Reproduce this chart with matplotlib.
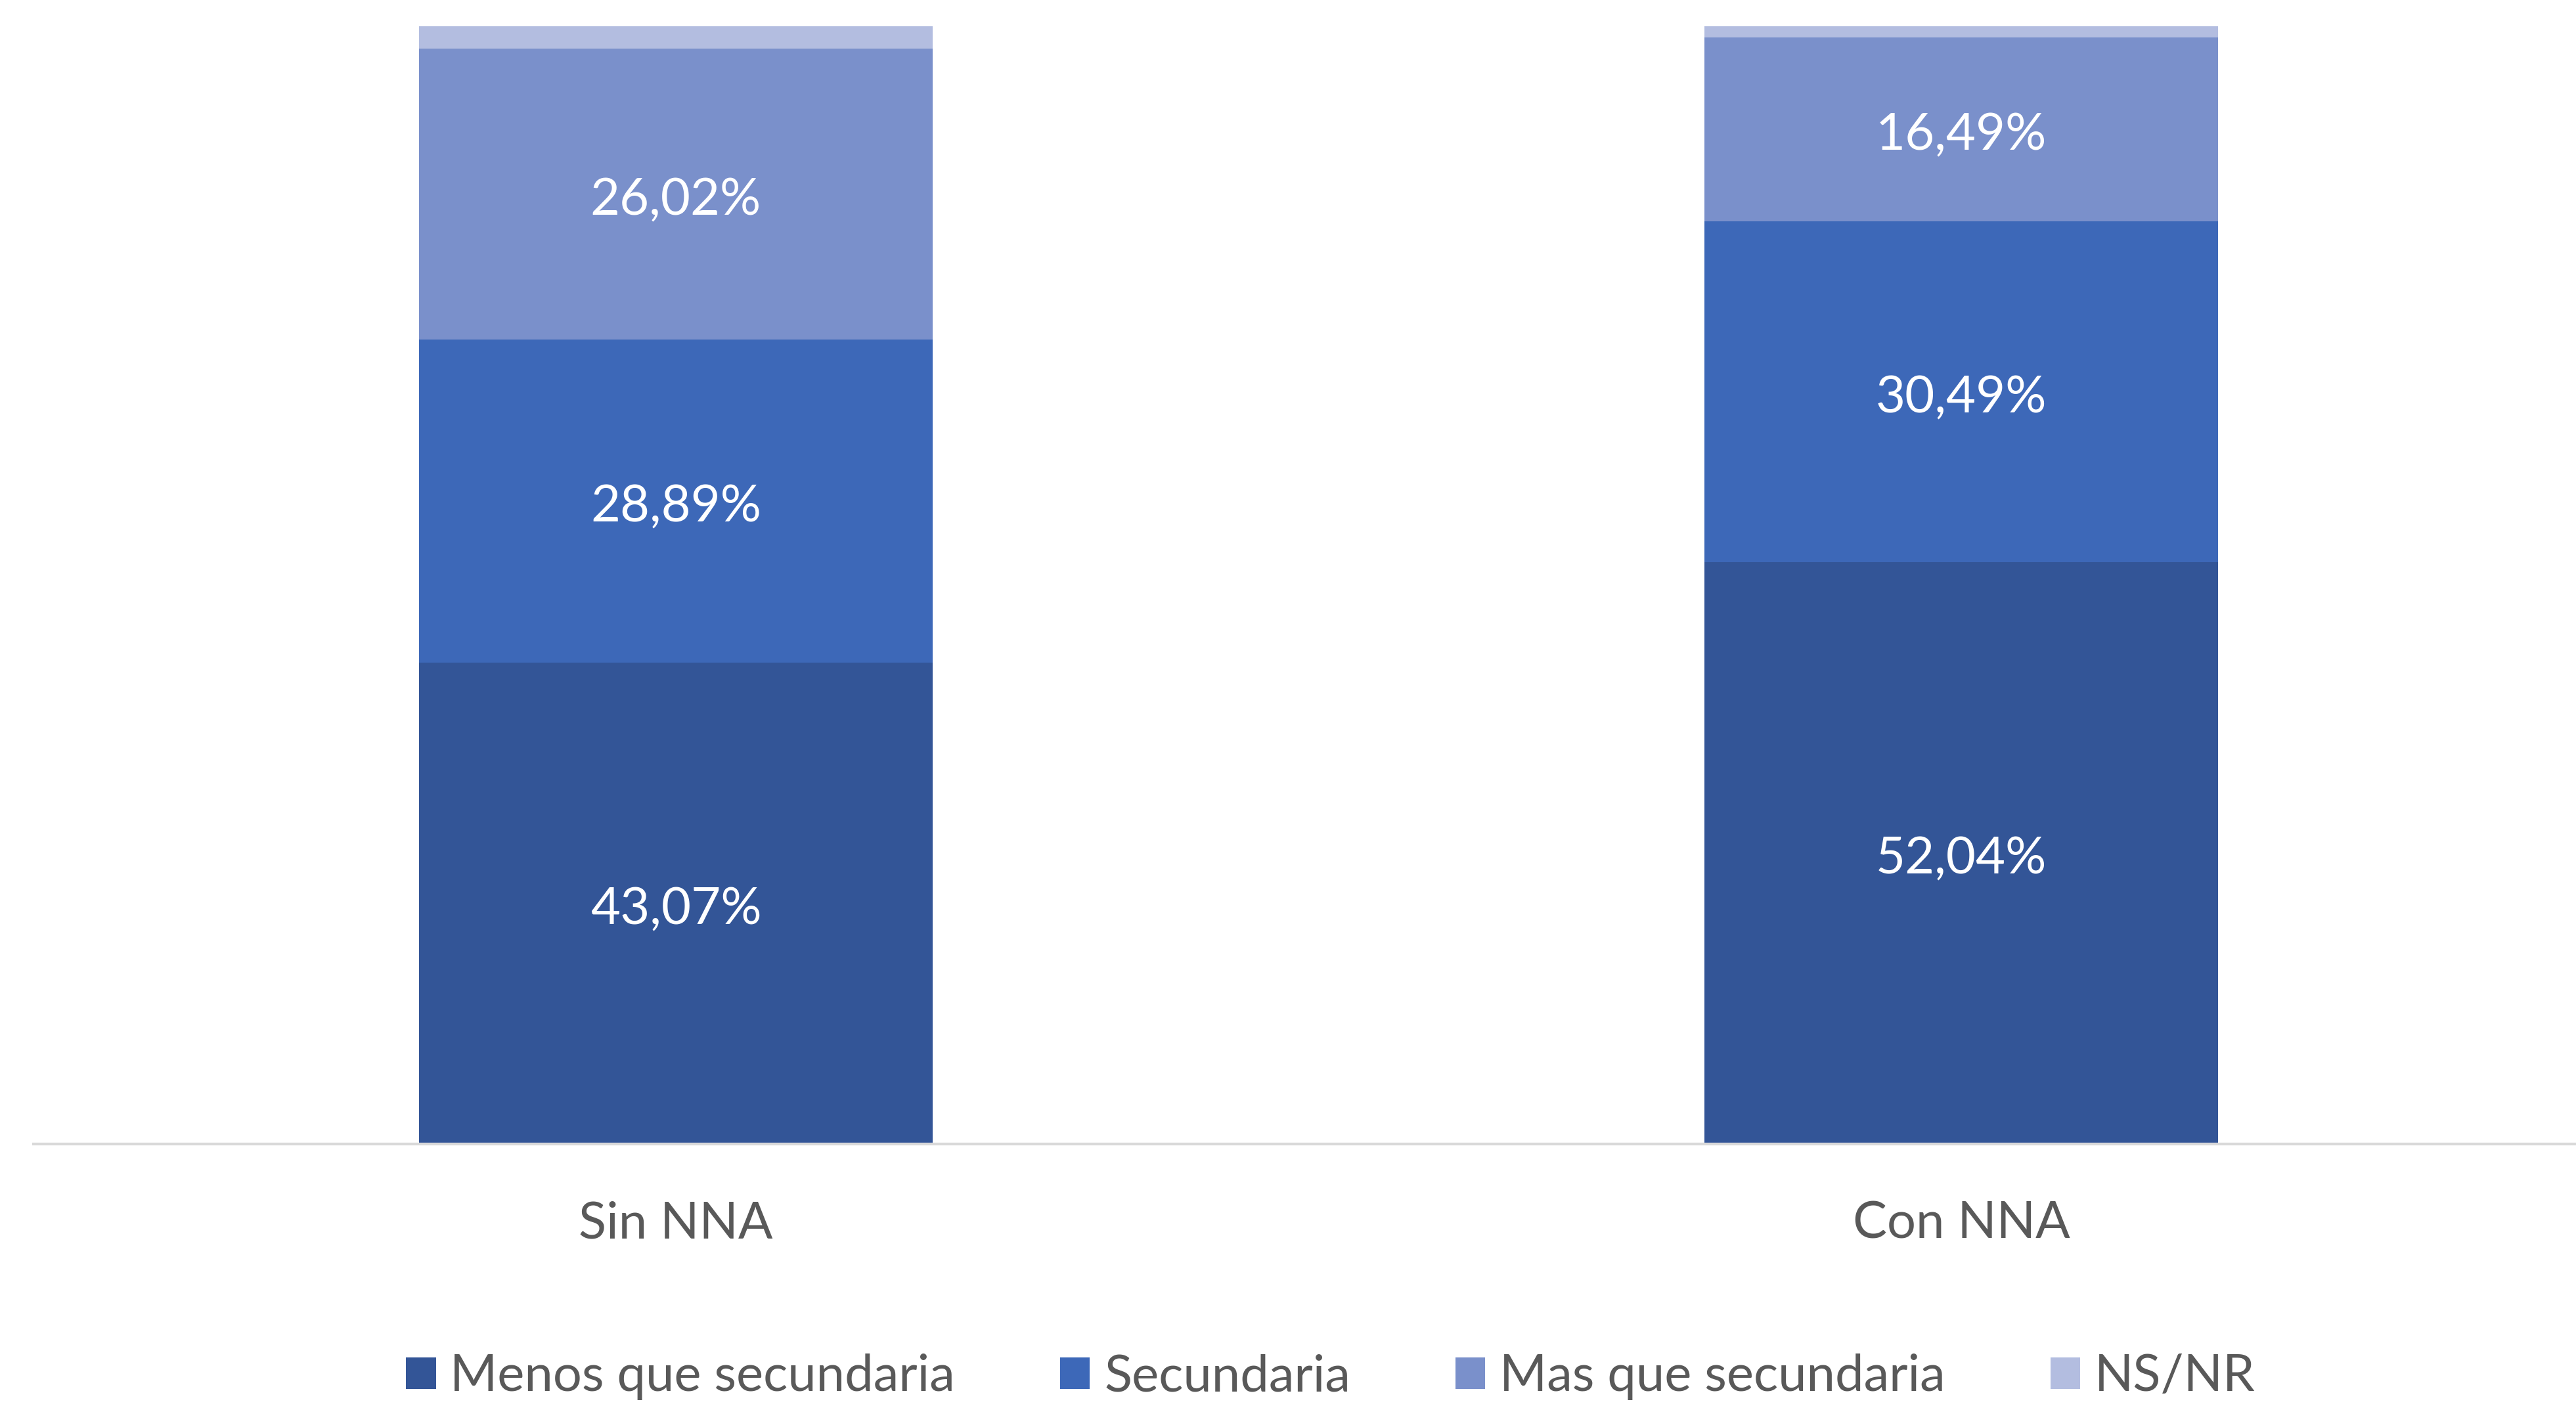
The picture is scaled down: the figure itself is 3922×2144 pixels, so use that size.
import matplotlib.pyplot as plt
import numpy as np

# data
groups = ["Sin NNA", "Con NNA"]
series = ["Menos que secundaria", "Secundaria", "Mas que secundaria", "NS/NR"]
menos = [43.07, 52.04]
secundaria = [28.89, 30.49]
mas = [26.02, 16.49]
nsnr = [2.02, 0.98]
colors = ["#335597", "#3D68B8", "#7A90CB", "#B3BDE0"]

plt.rcParams["font.family"] = ["Lato", "DejaVu Sans"]

fig = plt.figure(figsize=(19.61, 10.72), dpi=200)
ax = fig.add_axes([50.5 / 3922, 0.1875, 3914 / 3922, 0.9813 - 0.1875])

x = np.arange(len(groups))
bottom = np.zeros(len(groups))
for name, vals, col in zip(series, [menos, secundaria, mas, nsnr], colors):
    bars = ax.bar(x, vals, 0.4, bottom=bottom, color=col, label=name)
    if name != "NS/NR":
        for b, v, y0 in zip(bars, vals, bottom):
            ax.text(b.get_x() + b.get_width() / 2, y0 + v / 2 - 0.6,
                    f"{v:.2f}%".replace(".", ","), ha="center", va="center",
                    color="white", fontsize=28)
    bottom += np.array(vals)

ax.set_xlim(-0.5, 1.5)
ax.set_ylim(0, 100)
ax.set_xticks(x)
ax.set_xticklabels(groups, fontsize=28, color="#595959")
ax.tick_params(axis="x", length=0, pad=31)
ax.set_yticks([])
for s in ["top", "right", "left"]:
    ax.spines[s].set_visible(False)
ax.spines["bottom"].set_color("#D9D9D9")
ax.spines["bottom"].set_linewidth(1.5)

fig.legend(loc="center", bbox_to_anchor=(0.5166, 0.022), ncol=4, frameon=False,
           fontsize=28, labelcolor="#595959", handlelength=0.58, handleheight=0.58,
           handletextpad=0.28, columnspacing=2.06)

fig.savefig("out.png", dpi=200)
